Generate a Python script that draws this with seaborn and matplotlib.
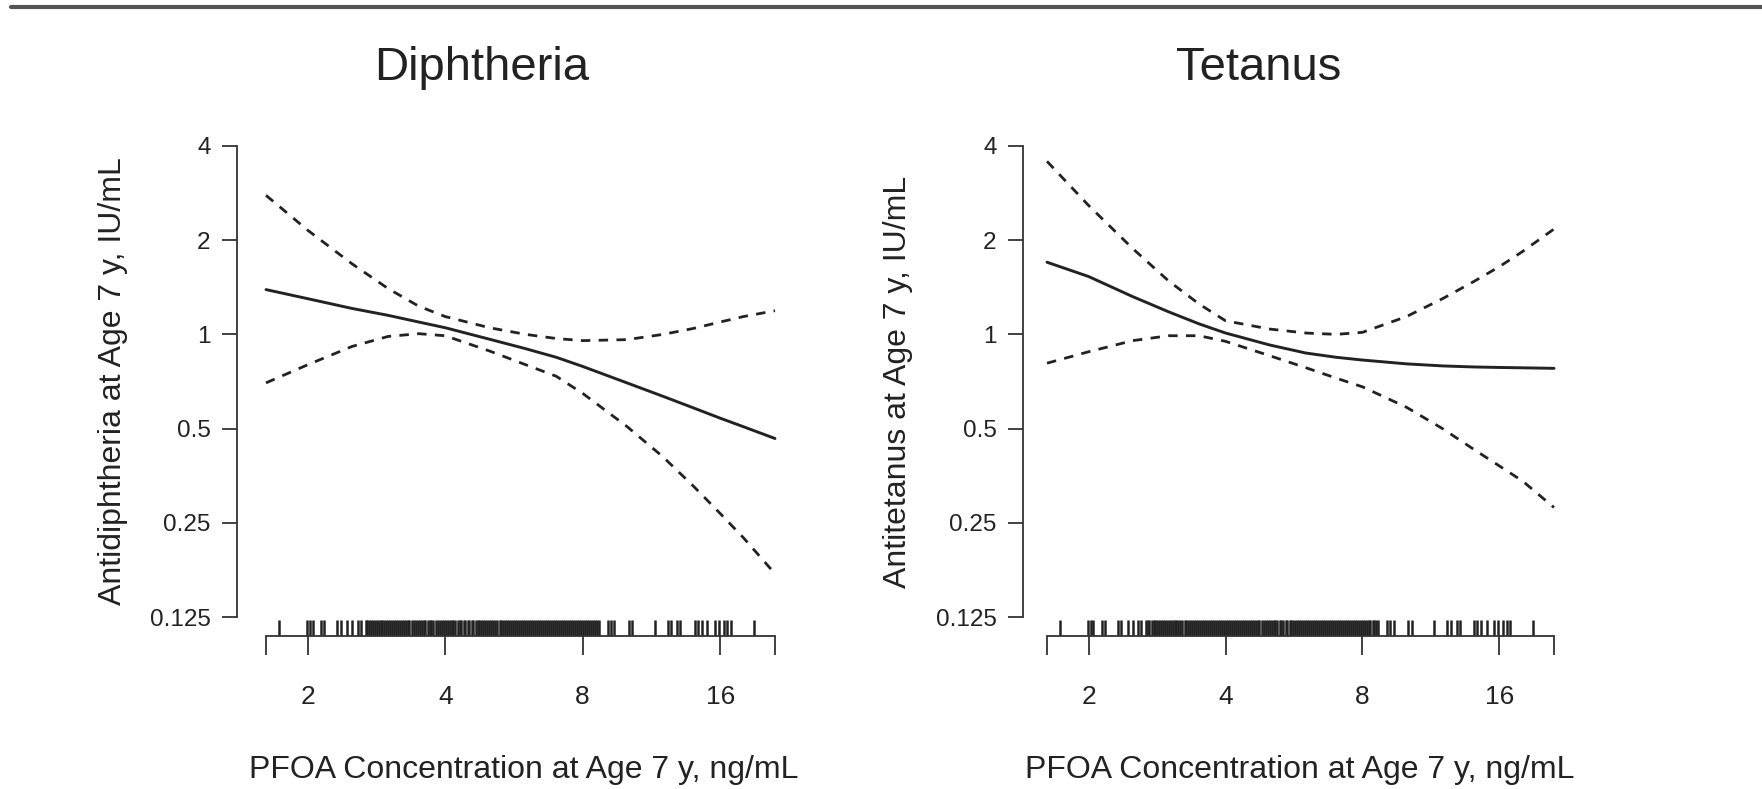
import matplotlib
matplotlib.use("Agg")
import matplotlib.pyplot as plt
from matplotlib.lines import Line2D
import seaborn as sns
import pandas as pd

# ---- data ----
pfoa_grid = [1.62, 2.0, 2.5, 3.0, 3.5, 4.0, 5.0, 6.0, 7.0, 8.0, 10.0, 12.0, 14.0, 16.0, 18.0, 21.1]

diph_fit = [1.39, 1.30, 1.21, 1.15, 1.095, 1.05, 0.965, 0.90, 0.845, 0.79, 0.70, 0.634, 0.582, 0.540, 0.507, 0.465]
diph_upper = [2.78, 2.15, 1.68, 1.40, 1.23, 1.14, 1.05, 1.00, 0.97, 0.955, 0.962, 1.00, 1.045, 1.095, 1.14, 1.19]
diph_lower = [0.70, 0.80, 0.915, 0.985, 1.005, 0.99, 0.885, 0.80, 0.735, 0.648, 0.508, 0.406, 0.327, 0.268, 0.224, 0.172]

tet_fit = [1.70, 1.53, 1.32, 1.18, 1.08, 1.01, 0.925, 0.872, 0.845, 0.828, 0.805, 0.793, 0.787, 0.784, 0.782, 0.779]
tet_upper = [3.57, 2.58, 1.88, 1.48, 1.25, 1.105, 1.04, 1.01, 1.0, 1.015, 1.14, 1.30, 1.47, 1.645, 1.84, 2.17]
tet_lower = [0.809, 0.88, 0.955, 0.99, 0.99, 0.95, 0.855, 0.783, 0.725, 0.68, 0.585, 0.50, 0.431, 0.38, 0.34, 0.28]

# observed PFOA values (rug)
pfoa_obs = [1.73, 1.99, 2.02, 2.05, 2.14, 2.17, 2.32, 2.36, 2.44, 2.50, 2.57, 2.61, 2.68,
            2.70, 2.72, 2.75, 2.78, 2.80, 2.83, 2.86, 2.89, 2.91, 2.94, 2.97, 3.00, 3.03, 3.06,
            3.09, 3.12, 3.15, 3.18, 3.21, 3.25, 3.28, 3.31, 3.34, 3.38, 3.41, 3.45, 3.48, 3.52,
            3.55, 3.59, 3.62, 3.66, 3.70, 3.73, 3.77, 3.81, 3.85, 3.89, 3.93, 3.97, 4.01, 4.05,
            4.09, 4.13, 4.17, 4.21, 4.26, 4.30, 4.34, 4.39, 4.43, 4.48, 4.52, 4.57, 4.61, 4.66,
            4.71, 4.75, 4.80, 4.85, 4.90, 4.95, 5.00, 5.05, 5.10, 5.15, 5.20, 5.26, 5.31, 5.36,
            5.42, 5.47, 5.53, 5.58, 5.64, 5.70, 5.75, 5.81, 5.87, 5.93, 5.99, 6.05, 6.11, 6.17,
            6.23, 6.30, 6.36, 6.42, 6.49, 6.55, 6.62, 6.69, 6.75, 6.82, 6.89, 6.96, 7.03, 7.10,
            7.17, 7.24, 7.32, 7.39, 7.46, 7.54, 7.62, 7.69, 7.77, 7.85, 7.93, 8.01, 8.09, 8.17,
            8.25, 8.33, 8.42, 8.50, 8.59, 8.67,
            9.07, 9.22, 9.37, 10.1, 10.26, 11.5, 12.3, 12.5, 12.9, 13.1, 14.1, 14.3, 14.6,
            15.0, 15.6, 15.9, 16.3, 16.6, 16.9, 19.0]

titles = ["Diphtheria", "Tetanus"]
ylabels = ["Antidiphtheria at Age 7 y, IU/mL", "Antitetanus at Age 7 y, IU/mL"]
xlabel = "PFOA Concentration at Age 7 y, ng/mL"
yticks = [0.125, 0.25, 0.5, 1, 2, 4]
ytick_labels = ["0.125", "0.25", "0.5", "1", "2", "4"]
xticks = [1.62, 2, 4, 8, 16, 21.1]
xtick_labels = ["", "2", "4", "8", "16", ""]

sns.set_style("ticks")
plt.rcParams["font.family"] = ["Liberation Sans", "DejaVu Sans"]

ink = "#222222"
axcol = "#333333"
W, H = 1762, 789

fig = plt.figure(figsize=(W / 100, H / 100), dpi=100)

# rule across the top
fig.add_artist(Line2D([11 / W, 1.0], [0.9911, 0.9911], color="#555555", lw=3.0))

panels = [
    (diph_fit, diph_upper, diph_lower),
    (tet_fit, tet_upper, tet_lower),
]
# pixel layout: axes left/right, first/last data position
ax_px = [(237, 794), (1023, 1574)]
data_px = [(266, 775), (1047, 1554)]
title_x = [482, 1259]
ylab_x = [113, 898]
xlab_x = [524, 1300]
ax_top, ax_bot = 127, 636

for i, (fit, up, lo) in enumerate(panels):
    l, r = ax_px[i]
    d0, d1 = data_px[i]
    ax = fig.add_axes([l / W, (H - ax_bot) / H, (r - l) / W, (ax_bot - ax_top) / H])
    ax.set_xscale("log", base=2)
    ax.set_yscale("log", base=2)
    per_dbl = (d1 - d0) / 3.703
    ax.set_xlim(1.62 * 2 ** (-(d0 - l) / per_dbl), 21.1 * 2 ** ((r - d1) / per_dbl))
    ax.set_ylim(0.125 * 2 ** -0.2, 4 * 2 ** 0.2)

    df = pd.DataFrame({"pfoa": pfoa_grid, "fit": fit, "upper": up, "lower": lo})
    sns.lineplot(data=df, x="pfoa", y="fit", ax=ax, color=ink, lw=2.1)
    sns.lineplot(data=df, x="pfoa", y="upper", ax=ax, color=ink, lw=2.0,
                 linestyle=(0, (3.4, 3.0)))
    sns.lineplot(data=df, x="pfoa", y="lower", ax=ax, color=ink, lw=2.0,
                 linestyle=(0, (3.4, 3.0)))
    sns.rugplot(x=pfoa_obs, ax=ax, height=0.032, color=ink, linewidth=1.8)

    sns.despine(ax=ax)
    ax.spines["left"].set_bounds(0.125, 4)
    ax.spines["bottom"].set_bounds(1.62, 21.1)
    for s in ["left", "bottom"]:
        ax.spines[s].set_color(axcol)
        ax.spines[s].set_linewidth(1.3)

    ax.set_yticks(yticks)
    ax.set_yticklabels(ytick_labels)
    ax.set_xticks(xticks)
    ax.set_xticklabels(xtick_labels)
    ax.minorticks_off()
    ax.tick_params(axis="y", length=11, width=1.3, color=axcol, pad=8, labelsize=17.5, labelcolor=ink)
    ax.tick_params(axis="x", length=14, width=1.3, color=axcol, pad=21, labelsize=19, labelcolor=ink)

    ax.set_xlabel("")
    ax.set_ylabel("")
    fig.text(xlab_x[i] / W, 11 / H, xlabel, ha="center", va="baseline",
             fontsize=23, color=ink)
    fig.text(ylab_x[i] / W, (H - (ax_top + ax_bot) / 2) / H, ylabels[i], rotation=90,
             ha="center", va="center", fontsize=23, color=ink)
    fig.text(title_x[i] / W, 0.8986, titles[i], ha="center", va="baseline", fontsize=34, color=ink)

fig.savefig("out.png", dpi=100)
